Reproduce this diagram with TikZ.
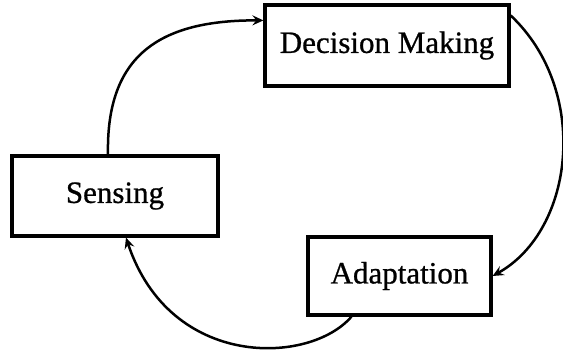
\documentclass[tikz,border=0pt]{standalone}
\usepackage{fontspec}
\setmainfont{Liberation Serif}
\newfontfamily\labelfont[FakeBold=0.8]{Liberation Serif}
\usetikzlibrary{arrows.meta,calc}
\tikzset{
  box/.style={draw=black,line width=3.2pt,inner sep=0pt,font=\labelfont\fontsize{31}{35}\selectfont},
  arr/.style={draw=black,line width=2.5pt,-{Stealth[length=11pt,width=10pt,inset=4pt]}}
}
\begin{document}
\begin{tikzpicture}[x=1pt,y=-1pt]
\useasboundingbox (0,0) rectangle (563,351);
\node[box,minimum width=206pt,minimum height=80pt] (S) at (115,196) {Sensing\hspace{12pt}};
\node[box,minimum width=244pt,minimum height=81pt] (D) at (387,45.5) {Decision Making};
\node[box,minimum width=183pt,minimum height=78pt] (A) at (399.5,276) {Adaptation};
\coordinate (s1) at ([xshift=-7pt]S.north);
\coordinate (d1) at ([yshift=-17pt]D.north west);
\coordinate (d2) at ([yshift=-12pt]D.north east);
\coordinate (a1) at (A.east);
\coordinate (a2) at ([xshift=-48pt]A.south);
\coordinate (s2) at ([xshift=11pt]S.south);
\draw[arr] (s1) .. controls (106,55) and (160,20) .. (d1);
\draw[arr] (d2) .. controls (590,90) and (575,230) .. (a1);
\draw[arr] (a2) .. controls (310,365) and (170,370) .. (s2);
\end{tikzpicture}
\end{document}
